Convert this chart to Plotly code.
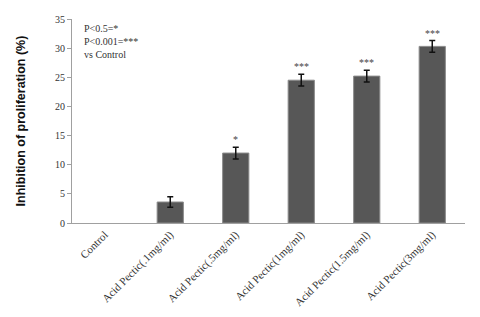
import plotly.graph_objects as go

categories = ["Control", "Acid Pectic(.1mg/ml)", "Acid Pectic(.5mg/ml)",
              "Acid Pectic(1mg/ml)", "Acid Pectic(1.5mg/ml)", "Acid Pectic(3mg/ml)"]
values = [0, 3.6, 12.0, 24.5, 25.2, 30.3]
errors = [0, 0.9, 1.0, 1.0, 1.0, 1.0]
stars = ["", "", "*", "***", "***", "***"]

serif = "Liberation Serif, Times New Roman, serif"

fig = go.Figure()
fig.add_trace(go.Bar(
    x=categories, y=values, width=0.4,
    marker=dict(color="#575757",
                line=dict(color="#8a8a8a", width=[0 if v == 0 else 1 for v in values])),
    showlegend=False,
))

idx = [i for i, e in enumerate(errors) if e > 0]
fig.add_trace(go.Scatter(
    x=[categories[i] for i in idx], y=[values[i] for i in idx], mode="markers",
    marker=dict(size=1, opacity=0),
    error_y=dict(type="data", array=[errors[i] for i in idx], visible=True,
                 color="#111111", thickness=1.5, width=3),
    showlegend=False, hoverinfo="skip",
))

for c, v, e, s in zip(categories, values, errors, stars):
    if s:
        fig.add_annotation(x=c, y=v + e, text=s, showarrow=False, yanchor="bottom",
                           yshift=0, font=dict(family=serif, size=10, color="#444444"))

fig.add_annotation(xref="paper", yref="paper", x=0.025, y=0.99, xanchor="left", yanchor="top",
                   text="P<0.5=*<br>P<0.001=***<br>vs Control", align="left", showarrow=False,
                   font=dict(family=serif, size=10, color="#333333"))

fig.update_layout(
    width=480, height=317,
    margin=dict(l=72, r=15, t=19, b=94),
    plot_bgcolor="white", paper_bgcolor="white",
    xaxis=dict(range=[-0.5, 5.5], showline=True, linecolor="#a0a0a0", linewidth=1,
               ticks="", tickangle=-45, automargin=False,
               tickfont=dict(family=serif, size=11, color="#333333")),
    yaxis=dict(range=[0, 35], dtick=5, showline=True, linecolor="#a0a0a0", linewidth=1,
               ticks="outside", ticklen=4, tickcolor="#a0a0a0", showgrid=False, zeroline=False,
               automargin=False,
               tickfont=dict(family=serif, size=10, color="#333333"),
               title=dict(text="<b>Inhibition of proliferation (%)</b>", standoff=26,
                          font=dict(family="Liberation Sans, Arial, sans-serif", size=12.5, color="#111111"))),
)

fig.write_html("out.html")
